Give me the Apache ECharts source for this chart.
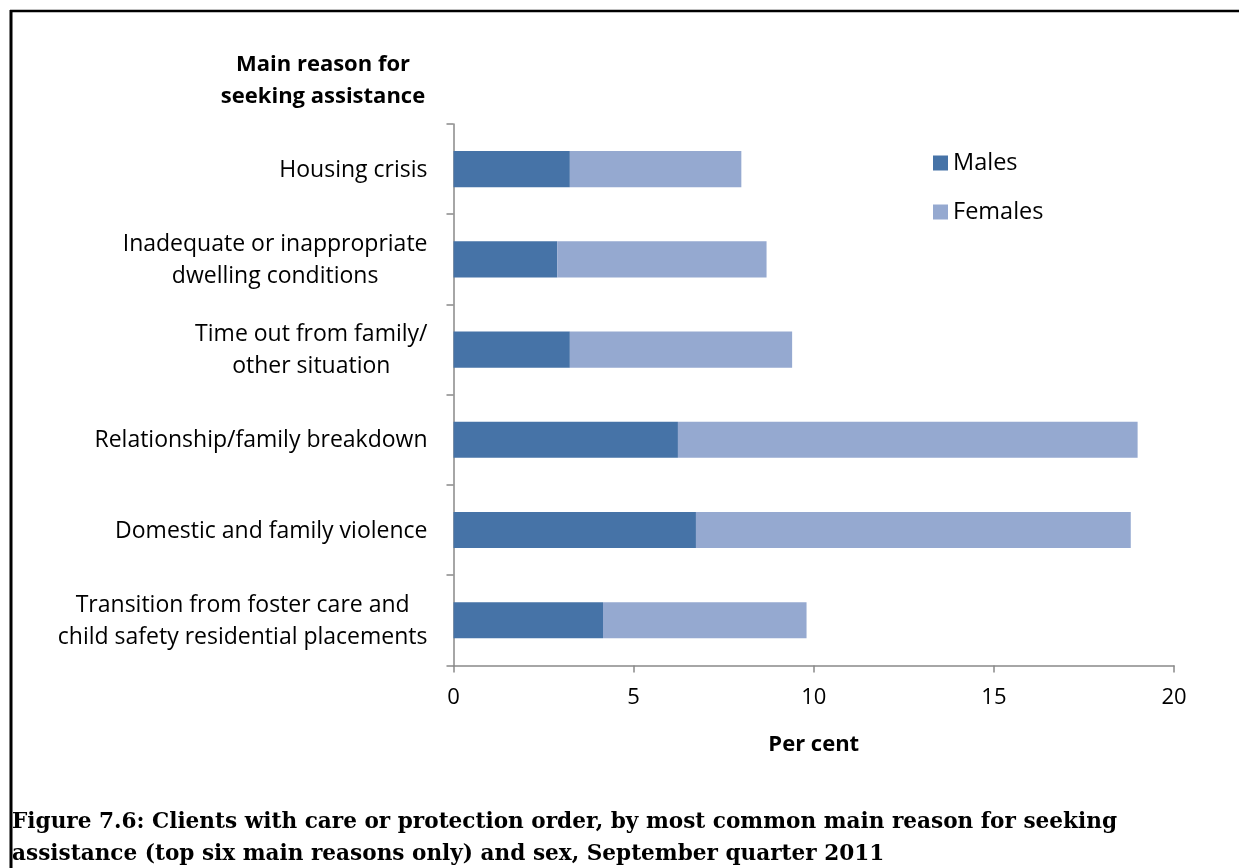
<!DOCTYPE html>
<html>
<head>
<meta charset="utf-8">
<script src="https://cdn.jsdelivr.net/npm/echarts@6/dist/echarts.min.js"></script>
<style>
  html, body { margin: 0; padding: 0; background: #fff; }
  #chart { width: 1239px; height: 868px; }
</style>
</head>
<body>
<div id="chart"></div>
<script>
// Main reason for seeking assistance, listed top to bottom
const reasons = [
  'Housing crisis',
  'Inadequate or inappropriate\ndwelling conditions',
  'Time out from family/\nother situation',
  'Relationship/family breakdown',
  'Domestic and family violence',
  'Transition from foster care and\nchild safety residential placements'
];
// Per cent of clients, by sex
const males   = [3.23, 2.88, 3.23, 6.23, 6.73, 4.15];
const females = [4.76, 5.81, 6.17, 12.76, 12.07, 5.65];
const xTicks = [0, 5, 10, 15, 20];

const labelFont = '"Open Sans", "Noto Sans", sans-serif';
const chart = echarts.init(document.getElementById('chart'), null, { renderer: 'canvas' });

chart.setOption({
  animation: false,
  backgroundColor: '#ffffff',
  title: {
    text: 'Main reason for\nseeking assistance',
    left: 323,
    top: 49,
    padding: 0,
    textAlign: 'center',
    textStyle: {
      fontFamily: labelFont, fontWeight: 'bold', fontSize: 22,
      lineHeight: 32, color: '#000'
    }
  },
  legend: {
    orient: 'vertical',
    left: 933,
    top: 151,
    padding: 0,
    itemWidth: 15,
    itemHeight: 15,
    itemGap: 25,
    icon: 'rect',
    textStyle: { fontFamily: labelFont, fontSize: 23.5, color: '#000', lineHeight: 22 },
    data: ['Males', 'Females']
  },
  grid: { left: 453.5, right: 65, top: 124, bottom: 202.6, containLabel: false },
  xAxis: {
    type: 'value',
    min: 0, max: 20, interval: 5,
    name: 'Per cent',
    nameLocation: 'middle',
    nameGap: 68,
    nameTextStyle: { fontFamily: labelFont, fontWeight: 'bold', fontSize: 22, color: '#000' },
    axisLine: { show: true, lineStyle: { color: '#898989', width: 1.5 } },
    axisTick: { show: true, length: 7, lineStyle: { color: '#898989', width: 1.5 } },
    axisLabel: {
      fontFamily: labelFont, fontSize: 22, color: '#000', margin: 21,
      formatter: v => (xTicks.indexOf(v) >= 0 ? String(v) : '')
    },
    splitLine: { show: false }
  },
  yAxis: {
    type: 'category',
    inverse: true,
    data: reasons,
    axisLine: { show: true, lineStyle: { color: '#898989', width: 1.5 } },
    axisTick: { show: true, length: 7, lineStyle: { color: '#898989', width: 1.5 } },
    axisLabel: {
      margin: 26,
      align: 'right',
      formatter: v => v.split('\n').map(s => '{c|' + s + '}').join('\n'),
      rich: {
        c: { fontFamily: labelFont, fontSize: 23, color: '#000', lineHeight: 32, align: 'center', padding: [2, 0, 0, 0] }
      }
    }
  },
  series: [
    {
      name: 'Males', type: 'bar', stack: 'sex', data: males,
      barCategoryGap: '60%',
      itemStyle: { color: '#4673A7' }
    },
    {
      name: 'Females', type: 'bar', stack: 'sex', data: females,
      barCategoryGap: '60%',
      itemStyle: { color: '#95A9D0' }
    }
  ],
  graphic: [
    { type: 'line', shape: { x1: 10, y1: 11, x2: 1239, y2: 11 }, style: { stroke: '#000', lineWidth: 2.5 } },
    { type: 'line', shape: { x1: 11, y1: 10, x2: 11, y2: 868 }, style: { stroke: '#000', lineWidth: 3 } },
    {
      type: 'text', left: 12, top: 806,
      style: {
        text: 'Figure 7.6: Clients with care or protection order, by most common main reason for seeking\nassistance (top six main reasons only) and sex, September quarter 2011',
        font: 'bold 21.6px "DejaVu Serif", "Liberation Serif", serif',
        lineHeight: 32, fill: '#000'
      }
    }
  ]
});
</script>
</body>
</html>
